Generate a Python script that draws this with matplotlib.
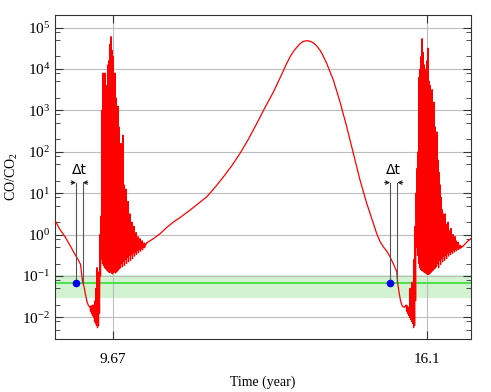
import numpy as np
import matplotlib
matplotlib.use('Agg')
import matplotlib.pyplot as plt
from matplotlib.patches import FancyArrowPatch
from matplotlib.ticker import LogLocator, NullFormatter

plt.rcParams['font.family'] = ['Liberation Serif', 'DejaVu Serif']
plt.rcParams['mathtext.fontset'] = 'custom'
plt.rcParams['mathtext.rm'] = 'Liberation Serif'
plt.rcParams['mathtext.it'] = 'Liberation Serif:italic'
plt.rcParams['axes.unicode_minus'] = False
plt.rcParams['font.size'] = 9.5

# smooth parts of the CO/CO2 curve, (time in years, log10 of ratio)
t_start = [8.495, 8.591, 8.694, 8.796, 8.898, 8.960, 9.011, 9.056, 9.083, 9.113, 9.144, 9.175]
y_start = [0.33, 0.12, -0.05, -0.26, -0.48, -0.60, -0.72, -1.16, -1.25, -1.45, -1.62, -1.72]

t_mid = [10.367, 10.502, 10.639, 10.776, 10.911, 11.049, 11.253, 11.423, 11.595, 11.765,
         11.935, 12.107, 12.277, 12.447, 12.619, 12.789, 12.959, 13.131, 13.219, 13.301,
         13.363, 13.438, 13.506, 13.567, 13.623, 13.670, 13.731, 13.778, 13.844, 13.916,
         13.977, 14.053, 14.188, 14.325, 14.462, 14.597, 14.735, 14.872, 15.007, 15.076,
         15.144, 15.213, 15.281, 15.349, 15.421, 15.486, 15.503, 15.533, 15.564, 15.595,
         15.636]
y_mid = [-0.20, -0.10, 0.02, 0.17, 0.30, 0.41, 0.59, 0.75, 0.91, 1.14,
         1.39, 1.66, 1.96, 2.30, 2.68, 3.07, 3.44, 3.87, 4.10, 4.29,
         4.41, 4.52, 4.61, 4.66, 4.68, 4.68, 4.66, 4.63, 4.56, 4.45,
         4.32, 4.13, 3.73, 3.20, 2.60, 1.96, 1.31, 0.75, 0.27, 0.02,
         -0.17, -0.30, -0.40, -0.54, -0.72, -0.90, -1.16, -1.40, -1.60, -1.72,
         -1.76]

t_end = [16.844, 16.920, 17.002]
y_end = [-0.28, -0.18, -0.10]

# oscillating bursts: alternating peaks and troughs (log10)
burst1_span = (9.206, 10.363)
burst1_peaks = [-1.75, -1.72, -1.78, -1.7, -1.8, -1.6, -1.3, -0.8, -1.2, -0.9,
                0.0, 0.45, 3.0, 3.9, 3.85, 3.9, 3.4, 3.6, 4.1, 4.2,
                4.6, 4.78, 4.45, 4.3, 3.4, 3.9, 3.3, 2.7, 3.1, 2.6,
                1.7, 2.2, 1.9, 2.4, 1.2, 0.9, 1.1, 0.6, 0.8, 0.4,
                0.5, 0.2, 0.3, 0.1, 0.2, -0.05, 0.05, -0.1, -0.05, -0.15,
                -0.1, -0.2, -0.15, -0.25, -0.2, -0.24, -0.21]
burst1_troughs = [-1.85, -1.9, -1.95, -2.0, -2.1, -2.15, -2.2, -2.25, -2.2, -1.9,
                  -1.0, -0.6, -0.7, -0.75, -0.8, -0.82, -0.85, -0.88, -0.9, -0.92,
                  -0.9, -0.93, -0.95, -0.92, -0.9, -0.93, -0.9, -0.88, -0.85, -0.82,
                  -0.8, -0.7, -0.78, -0.65, -0.74, -0.6, -0.7, -0.55, -0.66, -0.5,
                  -0.62, -0.48, -0.58, -0.44, -0.52, -0.42, -0.48, -0.38, -0.44, -0.36,
                  -0.4, -0.33, -0.37, -0.3, -0.32, -0.27, -0.22]

burst2_span = (15.677, 16.834)
burst2_peaks = [-1.7, -1.72, -1.75, -1.78, -1.3, -1.5, -1.15, -1.4, -0.6, 0.2,
                1.0, 1.6, 2.0, 3.8, 4.0, 4.3, 4.73, 4.4, 4.1, 3.9,
                4.0, 4.2, 4.5, 3.7, 3.6, 3.3, 3.5, 3.0, 3.2, 2.6,
                2.3, 2.48, 1.8, 1.5, 1.2, 0.9, 0.6, 0.5, 0.4, 0.5,
                0.25, 0.2, 0.3, 0.05, 0.1, 0.15, -0.05, 0.0, -0.1, -0.05,
                -0.15, -0.2, -0.18, -0.25, -0.27, -0.28, -0.28]
burst2_troughs = [-1.85, -1.9, -1.95, -2.0, -2.05, -2.1, -2.15, -2.25, -2.2, -1.6,
                  -0.3, -0.5, -0.7, -0.8, -0.84, -0.86, -0.88, -0.9, -0.92, -0.93,
                  -0.95, -0.96, -0.96, -0.95, -0.92, -0.9, -0.87, -0.85, -0.82, -0.8,
                  -0.76, -0.7, -0.8, -0.62, -0.72, -0.58, -0.66, -0.52, -0.62, -0.5,
                  -0.58, -0.45, -0.52, -0.42, -0.48, -0.4, -0.45, -0.38, -0.42, -0.36,
                  -0.39, -0.34, -0.36, -0.32, -0.33, -0.31, -0.29]

# threshold line and band, delta t markers
threshold = 0.069
band = (0.03, 0.105)
dt_left = (8.919, 9.056)
dt_right = (15.349, 15.498)
dt_level = 18.0
xticks = [9.67, 16.1]
xticklabels = ['9.67', '16.1']


def burst(span, peaks, troughs):
    vals = np.empty(len(peaks) + len(troughs))
    vals[0::2] = peaks
    vals[1::2] = troughs
    t = np.linspace(span[0], span[1], len(vals))
    return t, vals


b1t, b1y = burst(burst1_span, burst1_peaks, burst1_troughs)
b2t, b2y = burst(burst2_span, burst2_peaks, burst2_troughs)
t_all = np.concatenate([t_start, b1t, t_mid, b2t, t_end])
y_all = 10 ** np.concatenate([y_start, b1y, y_mid, b2y, y_end])

fig = plt.figure(figsize=(4.91, 3.92), dpi=100)
ax = fig.add_axes([0.1126, 0.1344, 0.8461, 0.8281])

ax.axhspan(band[0], band[1], color='#d2f2d2', lw=0, zorder=0)
ax.axhline(threshold, color='#33dd33', lw=1.2, zorder=2)
ax.plot(t_all, y_all, 'r-', lw=0.9, zorder=3)

# delta t marks: two verticals, arrows pointing inward, label above
for d in (dt_left, dt_right):
    ax.plot([d[0], d[0]], [threshold, dt_level], color='#555555', lw=0.8, zorder=4)
    ax.plot([d[1], d[1]], [threshold, dt_level], color='#555555', lw=0.8, zorder=4)
    w = d[1] - d[0]
    for a, b in ((d[0] - 0.75 * w, d[0]), (d[1] + 0.75 * w, d[1])):
        ax.add_patch(FancyArrowPatch((a, dt_level), (b, dt_level), arrowstyle='->',
                                     mutation_scale=6, lw=0.8, color='#222222',
                                     shrinkA=0, shrinkB=0, zorder=4))
    ax.text((d[0] + d[1]) / 2, dt_level * 1.35, '\u0394t', ha='center', va='bottom',
            family='DejaVu Sans', fontsize=10)
    ax.plot(d[0], threshold, 'o', color='#0000ee', ms=4.5, zorder=5)

ax.set_yscale('log')
ax.set_xlim(8.495, 17.0)
ax.set_ylim(10 ** -2.53, 10 ** 5.31)
ax.set_xticks(xticks)
ax.set_xticklabels(xticklabels)
ax.yaxis.set_major_locator(LogLocator(base=10, numticks=20))
ax.yaxis.set_minor_locator(LogLocator(base=10, subs=(2, 5, 8), numticks=20))
ax.yaxis.set_minor_formatter(NullFormatter())
ax.grid(True, which='major', color='#bdbdbd', lw=0.8)
ax.tick_params(which='both', direction='in', top=True, right=True, color='#333333')
ax.tick_params(which='major', length=5.5, labelsize=11)
ax.tick_params(which='minor', length=3.5)
ax.tick_params(axis='x', pad=10)
for s in ax.spines.values():
    s.set_color('#333333')

ax.set_xlabel('Time (year)', fontsize=10, labelpad=7)
ax.set_ylabel('CO/CO$_2$', fontsize=10, labelpad=2)

fig.savefig('out.png', dpi=100)
